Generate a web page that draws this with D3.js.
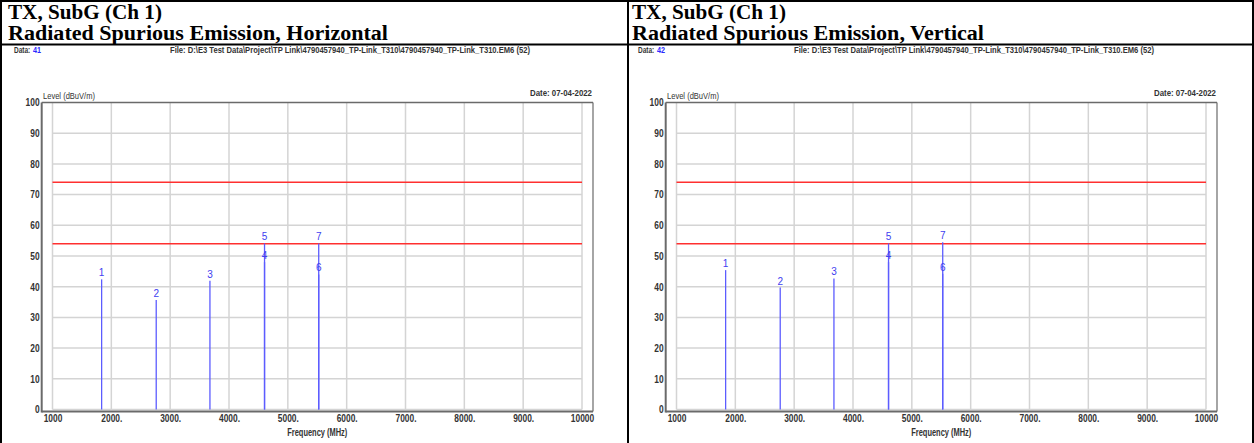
<!DOCTYPE html>
<html><head><meta charset="utf-8">
<script src="https://cdn.jsdelivr.net/npm/d3@7"></script>
<style>body{margin:0;background:#fff;overflow:hidden} svg{display:block}</style>
</head><body><svg id="c" width="1254" height="443"></svg>
<script>
// ---------- data ----------
const panelNames = ["Horizontal", "Vertical"];
const dataIds = ["41", "42"];
const titleLine1 = "TX, SubG (Ch 1)";
const titlePrefix = "Radiated Spurious Emission, ";
const fileText = "File: D:\\E3 Test Data\\Project\\TP Link\\4790457940_TP-Link_T310\\4790457940_TP-Link_T310.EM6  (52)";
const dateText = "Date: 07-04-2022";
const yLabel = "Level (dBuV/m)";
const xLabel = "Frequency (MHz)";
const xTicks = [1000, 2000, 3000, 4000, 5000, 6000, 7000, 8000, 9000, 10000];
const yTicks = [0, 10, 20, 30, 40, 50, 60, 70, 80, 90, 100];
const limitLines = [74, 54];
const markerIds = ["1", "2", "3", "4", "5", "6", "7"];
const markerFreq = [1835, 2763, 3676, 4604, 4604, 5525, 5525];
const levelsH = [42.4, 35.7, 41.9, 48.0, 54.1, 44.0, 54.1];
const levelsV = [45.4, 39.7, 42.7, 48.0, 54.1, 44.2, 54.5];
const panelLevels = [levelsH, levelsV];

// ---------- drawing ----------
const svg = d3.select("#c");
const W = 1254, H = 443;
const panelOffset = 624;
const sans = "'Liberation Sans', Arial, sans-serif";
const serif = "'Liberation Serif', 'Times New Roman', serif";

// table borders
const border = svg.append("g").attr("stroke", "#000").attr("stroke-width", 2);
border.append("line").attr("x1", 0).attr("x2", W).attr("y1", 1).attr("y2", 1);
border.append("line").attr("x1", 0).attr("x2", W).attr("y1", 44.5).attr("y2", 44.5);
border.append("line").attr("x1", 1).attr("x2", 1).attr("y1", 0).attr("y2", H);
border.append("line").attr("x1", 628).attr("x2", 628).attr("y1", 0).attr("y2", H);
border.append("line").attr("x1", 1253).attr("x2", 1253).attr("y1", 0).attr("y2", H);

panelNames.forEach((name, pi) => {
  const ox = pi * panelOffset;
  const g = svg.append("g").attr("transform", `translate(${ox},0)`);
  const levels = panelLevels[pi];

  // titles
  g.append("text").attr("x", 8).attr("y", 18.5)
    .attr("font-family", serif).attr("font-weight", "bold").attr("font-size", 20)
    .attr("fill", "#000").attr("textLength", 154).attr("lengthAdjust", "spacingAndGlyphs")
    .text(titleLine1);
  g.append("text").attr("x", 8).attr("y", 39.5)
    .attr("font-family", serif).attr("font-weight", "bold").attr("font-size", 20)
    .attr("fill", "#000").attr("textLength", name === "Horizontal" ? 380 : 352)
    .attr("lengthAdjust", "spacingAndGlyphs")
    .text(titlePrefix + name);

  // header info
  g.append("text").attr("transform", "translate(14,52.5) scale(0.72,1)")
    .attr("font-family", sans).attr("font-weight", "bold").attr("font-size", 9)
    .attr("fill", "#333").text("Data:");
  g.append("text").attr("transform", "translate(33,52.5) scale(0.8,1)")
    .attr("font-family", sans).attr("font-weight", "bold").attr("font-size", 9)
    .attr("fill", "#2a2aff").text(dataIds[pi]);
  g.append("text").attr("x", 170).attr("y", 52.5)
    .attr("font-family", sans).attr("font-weight", "bold").attr("font-size", 9)
    .attr("fill", "#333").attr("textLength", 360).attr("lengthAdjust", "spacingAndGlyphs")
    .text(fileText);
  g.append("text").attr("x", 530).attr("y", 96)
    .attr("font-family", sans).attr("font-weight", "bold").attr("font-size", 9.5)
    .attr("fill", "#333").attr("textLength", 62).attr("lengthAdjust", "spacingAndGlyphs")
    .text(dateText);

  // scales
  const x = d3.scaleLinear().domain([1000, 10000]).range([52.5, 582]);
  const y = d3.scaleLinear().domain([0, 100]).range([409.5, 102.5]);
  const axisLeftX = 41.7, axisBottomY = 411.5, frameRight = 593;

  // grid
  const grid = g.append("g").attr("stroke", "#d4d4d4").attr("stroke-width", 1.5);
  grid.selectAll(".vg").data(xTicks).join("line")
    .attr("x1", d => x(d)).attr("x2", d => x(d)).attr("y1", y(100)).attr("y2", y(0));
  grid.selectAll(".hg").data(yTicks.filter(d => d < 100)).join("line")
    .attr("x1", x(1000)).attr("x2", x(10000)).attr("y1", d => y(d)).attr("y2", d => y(d));

  // limit lines
  g.append("g").selectAll("line").data(limitLines).join("line")
    .attr("x1", x(1000)).attr("x2", x(10000)).attr("y1", d => y(d)).attr("y2", d => y(d))
    .attr("stroke", "#ff3030").attr("stroke-width", 1.6);

  // markers
  const mk = markerIds.map((id, i) => ({id, f: markerFreq[i], v: levels[i]}));
  g.append("g").selectAll("line").data(mk).join("line")
    .attr("x1", d => x(d.f)).attr("x2", d => x(d.f))
    .attr("y1", y(0)).attr("y2", d => y(d.v))
    .attr("stroke", "#5c5cff").attr("stroke-width", 1.3);
  g.append("g").selectAll("text").data(mk).join("text")
    .attr("x", d => x(d.f)).attr("y", d => y(d.v) - 3)
    .attr("text-anchor", "middle").attr("font-family", sans).attr("font-size", 10)
    .attr("fill", "#4040f0").text(d => d.id);

  // frame
  const frame = g.append("g").attr("stroke", "#6a6a6a").attr("fill", "none");
  frame.append("line").attr("x1", axisLeftX).attr("x2", frameRight).attr("y1", y(100)).attr("y2", y(100)).attr("stroke-width", 1.5);
  frame.append("line").attr("x1", frameRight).attr("x2", frameRight).attr("y1", y(100)).attr("y2", axisBottomY).attr("stroke-width", 1.2);
  frame.append("line").attr("x1", axisLeftX).attr("x2", axisLeftX).attr("y1", y(100)).attr("y2", axisBottomY + 1).attr("stroke-width", 2);
  frame.append("line").attr("x1", axisLeftX).attr("x2", frameRight).attr("y1", axisBottomY).attr("y2", axisBottomY).attr("stroke-width", 2);

  // axes (labels only)
  const ya = g.append("g").attr("transform", `translate(${axisLeftX - 0.5},0)`)
    .call(d3.axisLeft(y).tickValues(yTicks).tickSize(0).tickPadding(2).tickFormat(d => String(d)));
  ya.select(".domain").remove();
  ya.selectAll("text").attr("font-family", sans).attr("font-weight", "bold").attr("font-size", 10.5)
    .attr("fill", "#333").attr("transform", "scale(0.8,1)");

  const xa = g.append("g").attr("transform", `translate(0,${axisBottomY})`)
    .call(d3.axisBottom(x).tickValues(xTicks).tickSize(0).tickPadding(3.5)
      .tickFormat(d => (d === 1000 || d === 10000) ? String(d) : d + "."));
  xa.select(".domain").remove();
  xa.selectAll("text").attr("font-family", sans).attr("font-weight", "bold").attr("font-size", 10.5)
    .attr("fill", "#333").attr("transform", "scale(0.8,1)");

  // axis titles
  g.append("text").attr("x", (x(1000) + x(10000)) / 2).attr("y", 436)
    .attr("text-anchor", "middle").attr("font-family", sans).attr("font-weight", "bold")
    .attr("font-size", 10).attr("fill", "#333").attr("textLength", 60).attr("lengthAdjust", "spacingAndGlyphs")
    .text(xLabel);
  g.append("text").attr("x", 43).attr("y", 98.5)
    .attr("font-family", sans).attr("font-size", 9.5).attr("fill", "#333")
    .attr("textLength", 52).attr("lengthAdjust", "spacingAndGlyphs")
    .text(yLabel);
});
</script>
</body></html>
